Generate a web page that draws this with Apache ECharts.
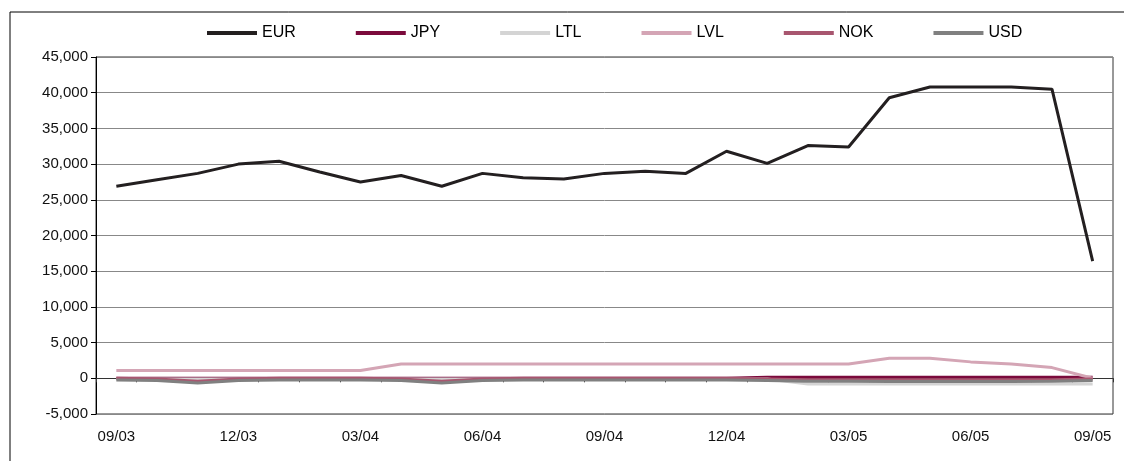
<!DOCTYPE html>
<html>
<head>
<meta charset="utf-8">
<script src="https://cdn.jsdelivr.net/npm/echarts@6.0.0/dist/echarts.min.js"></script>
<style>
  html, body { margin: 0; padding: 0; background: #fff; }
  #chart { width: 1124px; height: 461px; }
</style>
</head>
<body>
<div id="chart"></div>
<script>
// 月份（09/03 - 09/05）
var months = ['09/03', '10/03', '11/03', '12/03',
    '01/04', '02/04', '03/04', '04/04', '05/04', '06/04', '07/04', '08/04', '09/04', '10/04', '11/04', '12/04',
    '01/05', '02/05', '03/05', '04/05', '05/05', '06/05', '07/05', '08/05', '09/05'];

// 各币种数值
var eur = [26900, 27800, 28700, 30000, 30400, 28900, 27500, 28400, 26900, 28700, 28100, 27900, 28700,
    29000, 28700, 31800, 30100, 32600, 32400, 39300, 40800, 40800, 40800, 40500, 16400];
var jpy = [0, 0, 0, 0, 0, 0, 0, 0, 0, 0, 0, 0, 0, 0, 0, 0, 150, 150, 150, 150, 150, 150, 150, 150, 150];
var ltl = [-100, -100, -100, -100, -100, -100, -100, -100, -100, -100, -100, -100, -100, -100, -100, -100,
    -100, -800, -800, -800, -800, -800, -800, -800, -800];
var lvl = [1100, 1100, 1100, 1100, 1100, 1100, 1100, 2000, 2000, 2000, 2000, 2000, 2000, 2000, 2000, 2000,
    2000, 2000, 2000, 2800, 2800, 2300, 2000, 1500, 0];
var nok = [0, -100, -400, -100, 0, 0, 0, -100, -400, -100, 0, 0, 0, 0, 0, 0, -100, -200, -200, -200,
    -200, -200, -200, -200, -100];
var usd = [-250, -300, -650, -300, -250, -250, -250, -300, -650, -300, -250, -250, -250, -250, -250, -250,
    -300, -400, -400, -450, -450, -450, -450, -400, -300];

var names = ['EUR', 'JPY', 'LTL', 'LVL', 'NOK', 'USD'];
var colors = ['#231f20', '#7b0a3c', '#d4d4d4', '#d4a5b5', '#a8566f', '#808080'];
var values = [eur, jpy, ltl, lvl, nok, usd];

var font = '"Liberation Sans", Arial, sans-serif';

var series = [];
for (var i = 0; i < names.length; i++) {
    series.push({
        name: names[i],
        type: 'line',
        data: values[i],
        symbol: 'none',
        smooth: false,
        lineStyle: { width: 3, color: colors[i] },
        itemStyle: { color: colors[i] }
    });
}

var myChart = echarts.init(document.getElementById('chart'));
myChart.setOption({
    animation: false,
    backgroundColor: '#fff',
    color: colors,
    textStyle: { fontFamily: font },
    graphic: [{
        type: 'rect',
        shape: { x: 10, y: 12, width: 1130, height: 470 },
        style: { fill: 'none', stroke: '#000', lineWidth: 1 },
        silent: true
    }],
    legend: {
        left: 202,
        top: 20,
        icon: 'rect',
        itemWidth: 50,
        itemHeight: 4,
        itemGap: 60,
        textStyle: { fontSize: 16, color: '#000', fontFamily: font }
    },
    grid: {
        left: 96,
        right: 11,
        top: 57,
        bottom: 47,
        show: true,
        borderColor: '#333',
        borderWidth: 1
    },
    xAxis: [{
        // 零线上的刻度
        type: 'category',
        data: months,
        boundaryGap: true,
        axisLine: { onZero: true, lineStyle: { color: '#333', width: 1 } },
        axisTick: { show: true, interval: 0, length: 4, lineStyle: { color: '#333' } },
        axisLabel: { show: false },
        splitLine: { show: false }
    }, {
        // 底部标签
        type: 'category',
        data: months,
        position: 'bottom',
        boundaryGap: true,
        axisLine: { show: false, onZero: false },
        axisTick: { show: false },
        axisLabel: { interval: 2, fontSize: 15, color: '#111', margin: 15, fontFamily: font },
        splitLine: { show: false }
    }],
    yAxis: {
        type: 'value',
        min: -5000,
        max: 45000,
        interval: 5000,
        axisLine: { show: true, lineStyle: { color: '#000' } },
        axisTick: { show: true, length: 5, lineStyle: { color: '#000' } },
        axisLabel: {
            fontSize: 15,
            color: '#111',
            margin: 8,
            fontFamily: font,
            formatter: function (v) { return echarts.format.addCommas(v); }
        },
        splitLine: { show: true, lineStyle: { color: '#888', width: 1 } }
    },
    series: series
});
</script>
</body>
</html>
